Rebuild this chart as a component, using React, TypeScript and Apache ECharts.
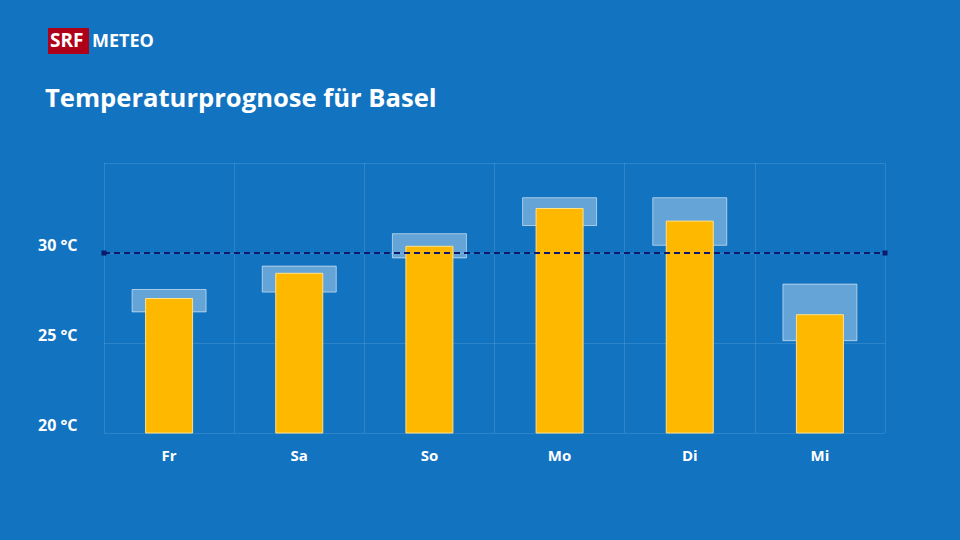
import React, { useEffect, useRef } from "react";
import * as echarts from "echarts";

const days = ["Fr", "Sa", "So", "Mo", "Di", "Mi"];
const forecast = [27.5, 28.9, 30.4, 32.5, 31.8, 26.6];
const rangeLow = [26.7, 27.8, 29.7, 31.5, 30.4, 25.1];
const rangeHigh = [28.0, 29.3, 31.1, 33.1, 33.1, 28.3];
const referenceTemp = 30;
const yTicks = [20, 25, 30, 35];

const FONT = "'Open Sans', 'Noto Sans', sans-serif";

export default function App() {
  const ref = useRef<HTMLDivElement>(null);
  useEffect(() => {
    if (!ref.current) return;
    const chart = echarts.init(ref.current, null, { renderer: "svg" });
    chart.setOption({
      animation: false,
      backgroundColor: "#1273c1",
      textStyle: { fontFamily: FONT },
      graphic: [
        { type: "rect", left: 48, top: 28, shape: { width: 41, height: 26 }, style: { fill: "#af0019" } },
        { type: "text", left: 50, top: 30, style: { text: "SRF", fill: "#fff", font: `bold 19px ${FONT}` } },
        { type: "text", left: 92, top: 31, style: { text: "METEO", fill: "#fff", font: `bold 18px ${FONT}` } },
        { type: "text", left: 45, top: 84, style: { text: "Temperaturprognose für Basel", fill: "#fff", font: `bold 25.6px ${FONT}` } },
      ],
      grid: { left: 104, right: 75, top: 163, bottom: 107 },
      xAxis: [
        {
          type: "category",
          data: days,
          axisLine: { show: false },
          axisTick: { show: false },
          splitLine: { show: true, lineStyle: { color: "rgba(255,255,255,0.12)" } },
          axisLabel: { color: "#fff", fontWeight: "bold", fontSize: 15, margin: 14, fontFamily: FONT },
        },
        { type: "category", data: days, show: false },
      ],
      yAxis: {
        type: "value",
        min: yTicks[0],
        max: yTicks[yTicks.length - 1],
        interval: 5,
        axisLine: { show: false },
        axisTick: { show: false },
        splitLine: { show: true, lineStyle: { color: "rgba(255,255,255,0.12)" } },
        axisLabel: {
          color: "#fff",
          fontWeight: "bold",
          fontSize: 16,
          fontFamily: FONT,
          align: "left",
          verticalAlign: "bottom",
          margin: 66,
          formatter: (v: number) => (v === 35 ? "" : `${v} °C`),
        },
      },
      series: [
        {
          type: "bar",
          xAxisIndex: 1,
          stack: "range",
          barWidth: 75,
          data: rangeLow,
          itemStyle: { color: "transparent" },
          silent: true,
        },
        {
          type: "bar",
          xAxisIndex: 1,
          stack: "range",
          barWidth: 75,
          data: rangeHigh.map((h, i) => +(h - rangeLow[i]).toFixed(2)),
          itemStyle: { color: "rgba(255,255,255,0.35)", borderColor: "rgba(255,255,255,0.55)", borderWidth: 1 },
        },
        {
          type: "bar",
          xAxisIndex: 0,
          barWidth: 48,
          data: forecast,
          z: 3,
          itemStyle: { color: "#ffb800", borderColor: "#ffe08a", borderWidth: 1 },
          markLine: {
            silent: true,
            symbol: ["rect", "rect"],
            symbolSize: 5,
            label: { show: false },
            lineStyle: { color: "#0d1a6b", type: [6, 4], width: 2 },
            data: [{ yAxis: referenceTemp }],
          },
        },
      ],
    });
    return () => chart.dispose();
  }, []);
  return <div ref={ref} style={{ width: 960, height: 540, position: "absolute", left: 0, top: 0 }} />;
}
